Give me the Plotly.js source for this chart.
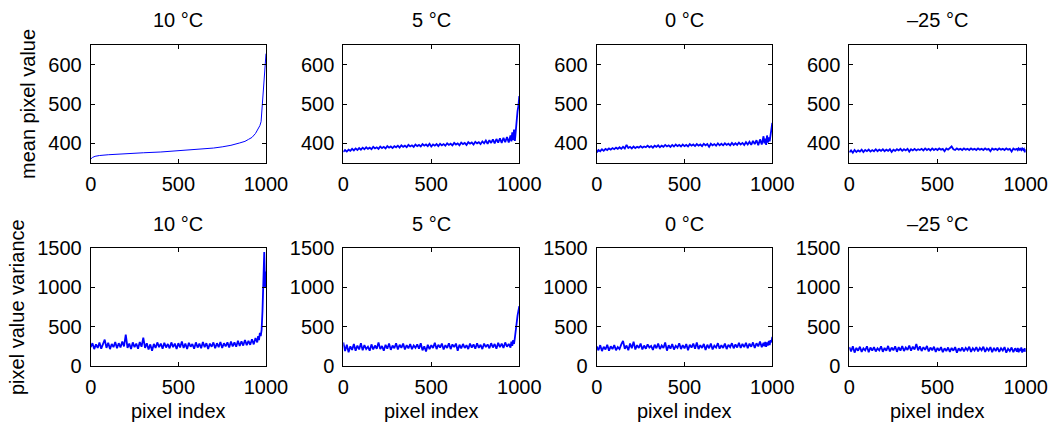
<!DOCTYPE html>
<html>
<head>
<meta charset="utf-8">
<script src="https://cdn.plot.ly/plotly-3.0.1.min.js"></script>
<style>html,body{margin:0;padding:0;background:#fff;}#chart{width:1052px;height:423px;}</style>
</head>
<body>
<div id="chart"></div>
<script>
// ---------- data ----------
var temperatures = ["10 °C", "5 °C", "0 °C", "–25 °C"];
var rowLabels = ["mean pixel value", "pixel value variance"];
var xLabel = "pixel index";
var xTicks = [0, 500, 1000];
var meanTicks = [400, 500, 600];
var varTicks = [0, 500, 1000, 1500];

// pixel index grid for noisy series
var xGrid = [0,10,20,30,40,50,60,70,80,90,100,110,120,130,140,150,160,170,180,190,
200,210,220,230,240,250,260,270,280,290,300,310,320,330,340,350,360,370,380,390,
400,410,420,430,440,450,460,470,480,490,500,510,520,530,540,550,560,570,580,590,
600,610,620,630,640,650,660,670,680,690,700,710,720,730,740,750,760,770,780,790,
800,810,820,830,840,850,860,870,880,890,900,910,920,930,940,950,955,960,965,970,
975,980,985,990,995,1000];

// 10 °C mean (smooth curve)
var mean10x = [0,5,10,25,50,100,200,300,400,500,600,700,750,800,850,880,900,920,940,955,965,972,978,982,986,990,995,1000];
var mean10 = [360,362,364,367,369,371,374,376,378,381,384,388,391,395,401,405,410,415,425,435,445,455,490,515,540,566,597,628];

var mean5 = [378,383,379,384,381,386,382,387,383,388,384,389,385,390,386,389,385,391,387,390,
386,392,388,391,387,393,389,392,388,393,390,394,389,395,391,394,390,396,392,395,
391,397,393,396,392,398,394,397,393,399,392,397,394,398,393,399,395,398,394,400,
396,399,395,401,397,400,395,402,398,401,396,403,399,402,397,404,400,403,398,405,
400,407,399,408,401,410,400,411,402,413,401,414,403,416,402,420,405,428,408,435,
406,440,470,482,495,520];

var mean0 = [377,383,380,385,381,386,383,387,384,388,385,389,386,390,386,391,387,396,388,391,
387,392,388,391,389,393,389,392,390,394,390,393,389,394,391,395,390,394,391,396,
392,395,391,396,392,397,393,396,392,397,393,396,392,398,394,397,393,398,394,397,
393,399,395,398,391,399,395,398,394,400,395,399,395,400,396,399,395,401,396,400,
396,402,397,401,396,403,397,404,396,406,398,408,395,410,397,418,400,412,396,420,
402,415,405,422,430,452];

var meanM25 = [377,382,376,383,378,382,379,384,378,383,380,384,379,383,380,385,380,384,381,385,
380,384,381,385,378,384,381,385,382,386,381,385,382,386,379,385,382,386,382,385,
383,386,382,387,383,386,382,387,383,386,383,387,384,386,380,387,384,388,392,385,
383,387,384,386,383,387,384,386,383,387,384,386,383,387,384,386,383,387,384,386,
380,387,384,386,383,387,384,386,383,387,384,386,379,387,384,386,383,387,384,386,
383,387,384,386,377,385];

var var10 = [240,290,215,275,230,300,220,285,335,230,295,215,280,240,305,225,290,235,310,250,
400,230,285,215,300,240,285,220,305,245,360,230,290,210,275,195,280,230,300,240,
285,220,295,235,280,225,300,240,285,215,290,235,310,230,285,215,295,245,280,220,
300,235,285,225,305,240,290,215,285,245,300,225,290,240,305,230,290,250,300,235,
310,250,300,245,320,255,315,260,330,265,320,270,340,275,355,300,380,330,420,380,
460,700,1250,1450,1000,1200];

var var5 = [300,190,270,175,250,205,280,195,260,210,290,200,265,215,245,195,275,210,260,220,
300,215,255,195,270,220,285,205,260,225,290,210,270,230,285,210,265,225,280,215,
260,230,275,220,290,200,250,185,270,215,265,230,295,215,270,235,285,210,265,230,
290,215,275,240,285,195,270,225,280,230,265,215,285,235,275,220,290,230,270,215,
285,240,275,225,290,235,280,220,295,240,285,230,300,245,280,235,310,255,330,280,
360,480,550,640,700,760];

var var0 = [250,200,265,190,245,210,270,195,250,215,265,200,240,215,275,320,220,260,200,285,
225,310,210,265,230,285,210,260,220,275,235,255,205,270,225,285,215,260,230,300,
195,265,220,280,210,255,230,290,215,265,225,280,200,270,235,285,220,300,215,265,
230,280,205,270,225,285,210,260,235,290,220,265,230,285,215,270,240,290,225,275,
235,295,230,280,240,295,225,285,245,300,230,290,250,310,240,295,250,305,245,300,
260,320,265,330,300,370];

var varM25 = [240,185,250,170,230,195,245,180,225,200,250,175,235,195,240,185,225,200,250,180,
230,195,255,185,235,200,250,180,240,195,255,190,235,205,260,195,245,210,280,200,
250,190,240,205,255,185,235,200,245,180,230,195,240,175,225,190,235,180,230,195,
240,170,225,190,235,185,230,200,245,180,225,195,240,185,230,200,245,180,225,195,
240,175,230,190,235,180,225,195,240,170,220,190,235,175,225,185,230,175,220,190,
235,170,215,185,225,180];

// ---------- chart ----------
var W = 1052, H = 423;
var colPx = [[90.7, 266.0], [343.3, 519.3], [596.7, 772.3], [849.3, 1025.7]];
var rowPx = [[45, 163], [248, 366]];
var blue = "rgb(0,0,255)";
var fontFam = "Liberation Sans, Arial, Helvetica, sans-serif";
var fs = 20;

var meanX = [mean10x, xGrid, xGrid, xGrid];
var meanY = [mean10, mean5, mean0, meanM25];
var varY = [var10, var5, var0, varM25];

var traces = [];
var layout = {
  width: W, height: H,
  margin: {l: 0, r: 0, t: 0, b: 0},
  paper_bgcolor: "#fff", plot_bgcolor: "#fff",
  showlegend: false,
  font: {family: fontFam, size: fs, color: "#000"},
  annotations: []
};

function axisCommon() {
  return {
    showline: true, linecolor: "#000", linewidth: 1, mirror: "ticks",
    ticks: "inside", ticklen: 4, tickwidth: 1, tickcolor: "#000",
    showgrid: false, zeroline: false,
    tickfont: {family: fontFam, size: fs, color: "#000"},
    tickmode: "array", fixedrange: true
  };
}

for (var r = 0; r < 2; r++) {
  for (var c = 0; c < 4; c++) {
    var k = r * 4 + c + 1;
    var xa = "x" + (k === 1 ? "" : k), ya = "y" + (k === 1 ? "" : k);
    var xName = "xaxis" + (k === 1 ? "" : k), yName = "yaxis" + (k === 1 ? "" : k);
    var smooth = (r === 0 && c === 0);
    traces.push({
      type: "scatter", mode: "lines",
      x: r === 0 ? meanX[c] : xGrid,
      y: r === 0 ? meanY[c] : varY[c],
      xaxis: xa, yaxis: ya,
      line: {color: blue, width: smooth ? 1 : 1.8},
      hoverinfo: "skip"
    });
    var xo = axisCommon();
    xo.domain = [colPx[c][0] / W, colPx[c][1] / W];
    xo.range = [0, 1000];
    xo.tickvals = xTicks;
    xo.anchor = ya;
    xo.ticklabelstandoff = 3;
    layout[xName] = xo;
    var yo = axisCommon();
    yo.domain = [1 - rowPx[r][1] / H, 1 - rowPx[r][0] / H];
    yo.range = r === 0 ? [350, 650] : [0, 1500];
    yo.tickvals = r === 0 ? meanTicks : varTicks;
    yo.anchor = xa;
    yo.ticklabelstandoff = 4;
    layout[yName] = yo;

    // subplot title
    layout.annotations.push({
      text: temperatures[c], xref: "paper", yref: "paper",
      x: (colPx[c][0] + colPx[c][1]) / 2 / W,
      y: 1 - (r === 0 ? 20 : 223.5) / H,
      xanchor: "center", yanchor: "middle", showarrow: false,
      font: {family: fontFam, size: fs, color: "#000"}
    });
    if (r === 1) {
      layout.annotations.push({
        text: xLabel, xref: "paper", yref: "paper",
        x: (colPx[c][0] + colPx[c][1]) / 2 / W,
        y: 1 - 411 / H,
        xanchor: "center", yanchor: "middle", showarrow: false,
        font: {family: fontFam, size: fs, color: "#000"}
      });
    }
  }
}
// row labels
layout.annotations.push({
  text: rowLabels[0], xref: "paper", yref: "paper",
  x: 28 / W, y: 1 - 104 / H, textangle: -90,
  xanchor: "center", yanchor: "middle", showarrow: false,
  font: {family: fontFam, size: fs, color: "#000"}
});
layout.annotations.push({
  text: rowLabels[1], xref: "paper", yref: "paper",
  x: 17 / W, y: 1 - 307 / H, textangle: -90,
  xanchor: "center", yanchor: "middle", showarrow: false,
  font: {family: fontFam, size: fs, color: "#000"}
});

Plotly.newPlot("chart", traces, layout, {staticPlot: true, displayModeBar: false});
</script>
</body>
</html>
